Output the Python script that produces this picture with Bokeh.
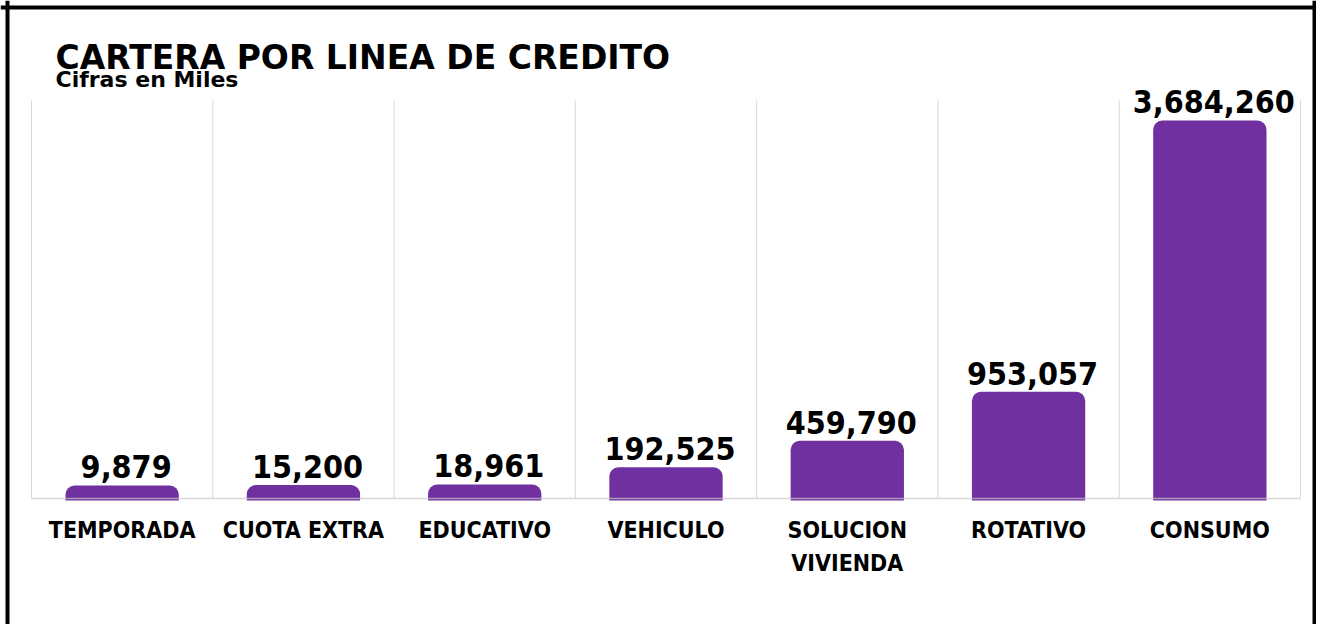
from bokeh.plotting import figure
from bokeh.models import Range1d, Span
from bokeh.core.properties import value
from bokeh.embed import file_html
from bokeh.resources import INLINE

# ---- data ----
categories = ["TEMPORADA", "CUOTA EXTRA", "EDUCATIVO", "VEHICULO",
              "SOLUCION VIVIENDA", "ROTATIVO", "CONSUMO"]
category_labels = ["TEMPORADA", "CUOTA EXTRA", "EDUCATIVO", "VEHICULO",
                   "SOLUCION\nVIVIENDA", "ROTATIVO", "CONSUMO"]
values = [9879, 15200, 18961, 192525, 459790, 953057, 3684260]
value_labels = [f"{v:,}" for v in values]
title_text = "CARTERA POR LINEA DE CREDITO"
subtitle_text = "Cifras en Miles"

n = len(categories)
positions = list(range(n))          # category slots on the x scale

# ---- layout constants (pixels) ----
W, H = 1316, 624
GRID_LEFT, GRID_RIGHT = 31, 1300    # first / last category boundary
ZERO_PX = 486                       # canvas row where value 0 sits
TOP_PX = 120                        # canvas row of the largest bar top
upp = max(values) / (ZERO_PX - TOP_PX)     # data units per pixel
pxu = (GRID_RIGHT - GRID_LEFT) / n          # pixels per category

x_start = -0.5 - GRID_LEFT / pxu
x_end = x_start + W / pxu
y_start = -(H - ZERO_PX) * upp
y_end = ZERO_PX * upp


def ypx(px):
    """canvas pixel row -> data y"""
    return (ZERO_PX - px) * upp


def xpx(px):
    """canvas pixel column -> data x"""
    return x_start + px / pxu


FONT = value("DejaVu Sans")
CFONT = value("DejaVu Sans Condensed, DejaVu Sans")
BASE_SHIFT = 0.4   # alphabetic-baseline correction, in em

p = figure(width=W, height=H, x_range=Range1d(x_start, x_end),
           y_range=Range1d(y_start, y_end),
           x_axis_type=None, y_axis_type=None,
           output_backend="svg", toolbar_location=None)
p.min_border_left = p.min_border_right = 0
p.min_border_top = p.min_border_bottom = 0
p.outline_line_color = None
p.background_fill_color = "white"
p.border_fill_color = "white"

baseline_y = ypx(498)
bar_bottom = ypx(500)
grid_top = ypx(100)

# vertical gridlines between categories
bounds = [i - 0.5 for i in range(n + 1)]
p.segment(x0=bounds, y0=[baseline_y] * len(bounds), x1=bounds,
          y1=[grid_top] * len(bounds), line_color="#d9d9d9", line_width=1)

# bars
p.vbar(x=positions, top=values, bottom=bar_bottom, width=0.625,
       fill_color="#7030A0", line_color=None, border_radius=(9, 9, 0, 0))

# baseline
p.segment(x0=[bounds[0]], y0=[baseline_y], x1=[bounds[-1]], y1=[baseline_y],
          line_color="#c8c8c8", line_alpha=0.7, line_width=1.5)

# value labels
VSIZE = 32
p.text(x=positions, y=values, text=value_labels, text_align="center",
       text_baseline="alphabetic", x_offset=4,
       y_offset=-6 - BASE_SHIFT * VSIZE,
       text_font=CFONT, text_font_style="bold",
       text_font_size=f"{VSIZE}px", text_color="black")

# category labels
p.text(x=positions, y=[baseline_y] * n, text=category_labels,
       text_align="center", text_baseline="top", y_offset=18,
       text_font=CFONT, text_font_style="bold", text_font_size="23px",
       text_line_height=1.3, text_color="black")

# title and subtitle
TSIZE, SSIZE = 33, 22
p.text(x=[xpx(55)], y=[ypx(70)], text=[title_text], text_align="left",
       text_baseline="alphabetic", y_offset=-BASE_SHIFT * TSIZE,
       text_font=FONT, text_font_style="bold",
       text_font_size=f"{TSIZE}px", text_color="black")
p.text(x=[xpx(55)], y=[ypx(88)], text=[subtitle_text], text_align="left",
       text_baseline="alphabetic", y_offset=-BASE_SHIFT * SSIZE,
       text_font=FONT, text_font_style="bold",
       text_font_size=f"{SSIZE}px", text_color="black")

# frame border (left, right, top)
for loc, dim in [(xpx(7), "height"), (xpx(W - 2), "height"), (ypx(7), "width")]:
    p.add_layout(Span(location=loc, dimension=dim, line_color="black",
                      line_width=4))

open("out.html", "w").write(file_html(p, INLINE))
